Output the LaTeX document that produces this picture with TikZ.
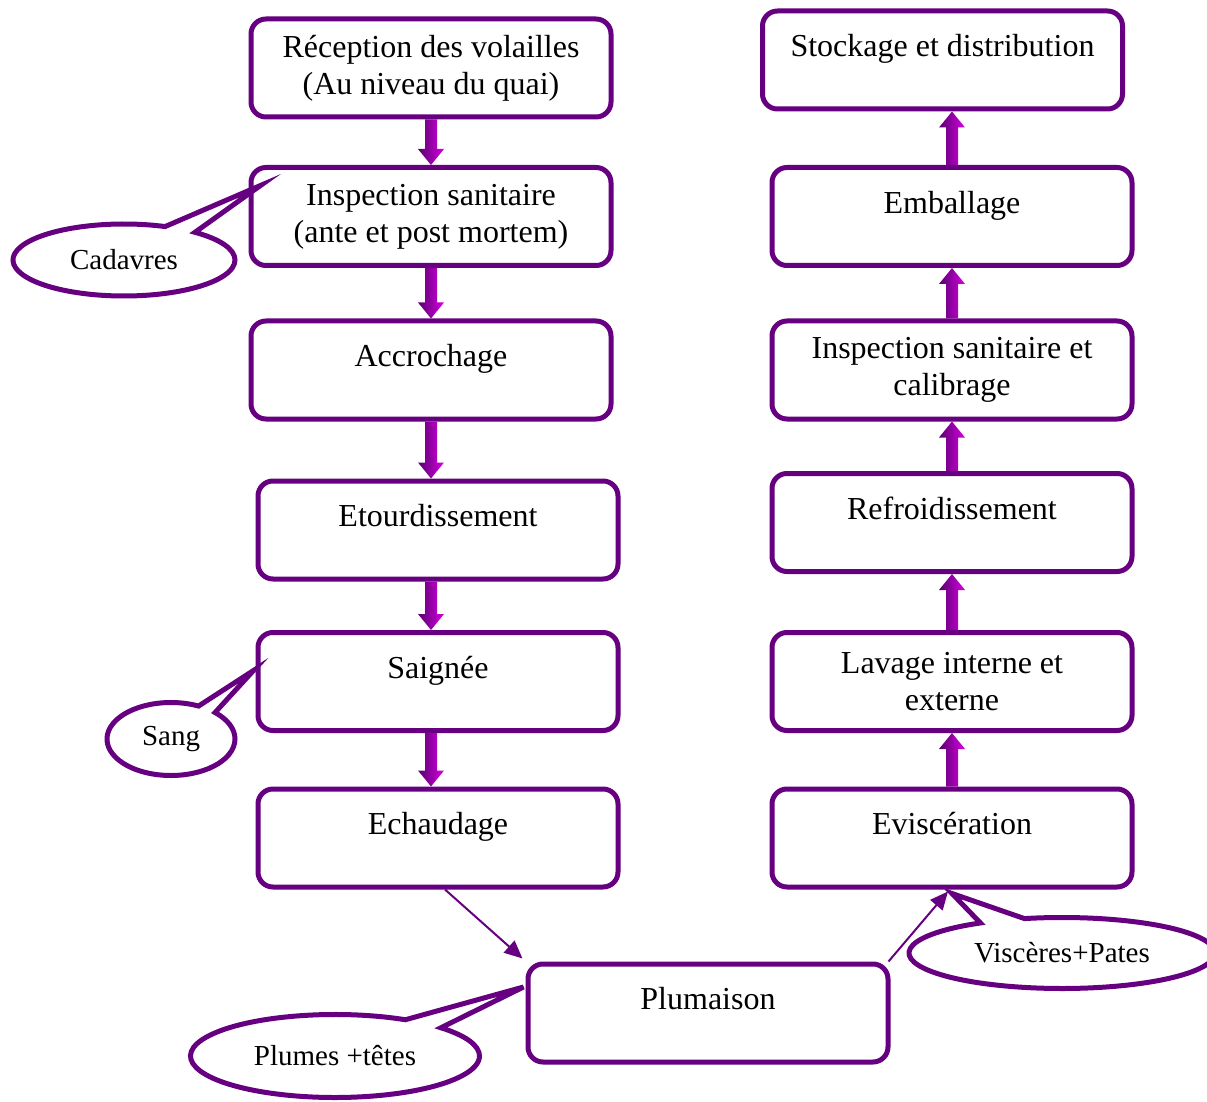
\documentclass[tikz,border=0pt]{standalone}
\usepackage{fontspec}
\setmainfont{Liberation Serif}
\usetikzlibrary{shapes.callouts,calc,arrows.meta}
\definecolor{abvviolet}{RGB}{102,0,128}
\definecolor{abvfonce}{RGB}{88,0,112}
\definecolor{abvrose}{RGB}{214,0,224}
\newcommand{\uneligne}[1]{#1\\[-4pt]\mbox{}}

\tikzset{
  etape/.style={draw=abvviolet, line width=2.5pt, rounded corners=7.5pt,
    minimum width=180pt, minimum height=49pt, align=center, inner sep=2pt},
  bulle/.style={draw=abvviolet, line width=2.5pt, ellipse callout,
    callout pointer arc=18, inner sep=0pt, font=\fontsize{14.5}{17}\selectfont},
  fleche/.style={to path={let \p1=(\tikztostart), \p2=(\tikztotarget),
    \p3=($(\tikztotarget)!8pt!(\tikztostart)$) in
    (\x1-3pt,\y1) -- (\x1+3pt,\y1) -- (\x1+3pt,\y3) -- (\x1+6.5pt,\y3)
    -- (\x1,\y2) -- (\x1-6.5pt,\y3) -- (\x1-3pt,\y3) -- cycle}},
  mince/.style={abvviolet, line width=1pt, -{Triangle[length=9pt,width=8pt]}}
}

\begin{document}
\begin{tikzpicture}[x=0.5pt, y=-0.5pt]
            \tikzstyle{every node}=[font=\fontsize{16}{18.5}\selectfont]
            \useasboundingbox (0, 0) rectangle (1207, 1102);
            % colonne gauche
            \node[etape] (recep) at (431, 68) {R\'eception des volailles\\(Au niveau du quai)};
            \node[etape] (insp) at (431, 216.5) {Inspection sanitaire\\(ante et post mortem)};
            \node[etape] (accro) at (431, 370) {\uneligne{Accrochage}};
            \node[etape] (etour) at (438, 530) {\uneligne{Etourdissement}};
            \node[etape] (saign) at (438, 681.5) {\uneligne{Saign\'ee}};
            \node[etape] (echaud) at (438, 838) {\uneligne{Echaudage}};
            \node[etape] (plum) at (708, 1013) {\uneligne{Plumaison}};
            % colonne droite
            \node[etape] (stock) at (942.5, 60) {\uneligne{Stockage et distribution}};
            \node[etape] (embal) at (952, 216.5) {\uneligne{Emballage}};
            \node[etape] (inspcal) at (952, 370) {Inspection sanitaire et\\calibrage};
            \node[etape] (refroid) at (952, 522.5) {\uneligne{Refroidissement}};
            \node[etape] (lavage) at (952, 681.5) {Lavage interne et\\externe};
            \node[etape] (evisc) at (952, 838) {\uneligne{Evisc\'eration}};

            % dechets
            \node[bulle, minimum width=111pt, minimum height=36pt,
              callout absolute pointer={([xshift=6pt,yshift=15.5pt]insp.west)}] (cad) at (124, 260) {Cadavres};
            \node[bulle, minimum width=64pt, minimum height=36.5pt,
              callout absolute pointer={([xshift=-1pt,yshift=5.5pt]saign.west)}] (sang) at (171, 739) {Sang};
            \node[bulle, minimum width=144.5pt, minimum height=41.5pt,
              callout absolute pointer={([xshift=-1pt,yshift=13pt]plum.west)}] (plumes) at (335, 1056) {Plumes +t\^etes};
            \node[bulle, minimum width=153pt, minimum height=35.5pt,
              callout absolute pointer={([yshift=-2pt]evisc.south)}] (visc) at (1062, 953) {Visc\`eres+Pates};

            \shade[left color=abvfonce, right color=abvrose] (recep.south) to[fleche] (recep.south |- insp.north);
            \shade[left color=abvfonce, right color=abvrose] (insp.south) to[fleche] (insp.south |- accro.north);
            \shade[left color=abvfonce, right color=abvrose] (accro.south) to[fleche] (accro.south |- etour.north);
            \shade[left color=abvfonce, right color=abvrose] (accro.south |- etour.south) to[fleche] (accro.south |- saign.north);
            \shade[left color=abvfonce, right color=abvrose] (accro.south |- saign.south) to[fleche] (accro.south |- echaud.north);

            \shade[left color=abvfonce, right color=abvrose] (evisc.north) to[fleche] (evisc.north |- lavage.south);
            \shade[left color=abvfonce, right color=abvrose] (lavage.north) to[fleche] (lavage.north |- refroid.south);
            \shade[left color=abvfonce, right color=abvrose] (refroid.north) to[fleche] (refroid.north |- inspcal.south);
            \shade[left color=abvfonce, right color=abvrose] (inspcal.north) to[fleche] (inspcal.north |- embal.south);
            \shade[left color=abvfonce, right color=abvrose] (embal.north) to[fleche] (embal.north |- stock.south);

            \draw[mince] ([xshift=3.5pt]echaud.south) -- ([xshift=-1.5pt,yshift=1.5pt]plum.north west);
            \draw[mince] ([xshift=-1pt]plum.north east) -- ([xshift=-2pt,yshift=-1pt]evisc.south);
        \end{tikzpicture}
\end{document}
